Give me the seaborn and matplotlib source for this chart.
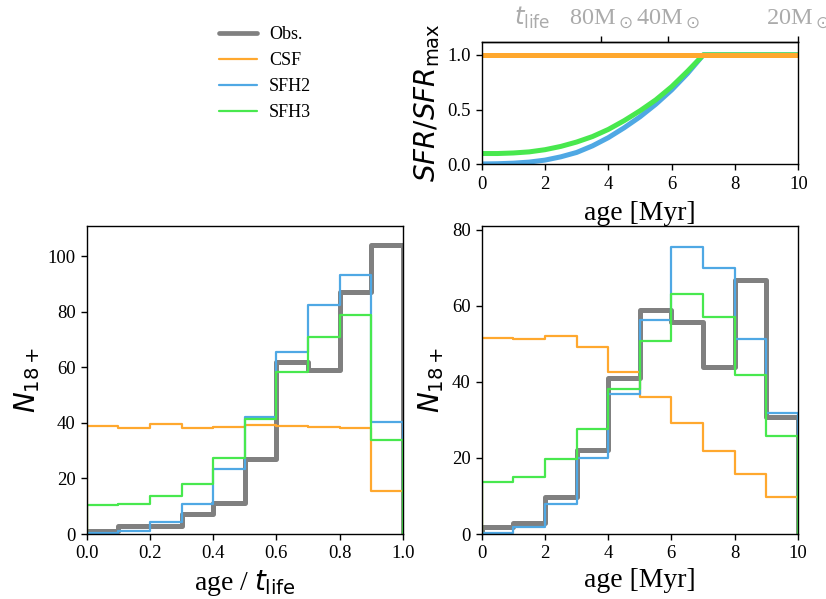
import numpy as np
import pandas as pd
import matplotlib
matplotlib.use("Agg")
import matplotlib.pyplot as plt
from matplotlib.lines import Line2D
import seaborn as sns

# ---------------- data ----------------
frac_edges = [0.0, 0.1, 0.2, 0.3, 0.4, 0.5, 0.6, 0.7, 0.8, 0.9, 1.0]
age_edges = [0, 1, 2, 3, 4, 5, 6, 7, 8, 9, 10]

obs_frac = [1.0, 3.0, 3.0, 7.2, 11.0, 27.0, 62.0, 59.0, 87.0, 104.0]
csf_frac = [38.8, 38.3, 39.7, 38.3, 38.5, 39.1, 38.8, 38.6, 38.2, 15.5]
sfh2_frac = [0.2, 1.0, 4.2, 10.8, 23.4, 42.2, 65.4, 82.6, 93.4, 40.5]
sfh3_frac = [10.3, 10.8, 13.6, 18.0, 27.4, 41.5, 58.4, 71.0, 78.9, 33.9]

obs_age = [1.9, 3.0, 9.8, 22.0, 40.9, 59.0, 55.7, 43.9, 66.8, 30.8]
csf_age = [51.6, 51.3, 52.1, 49.3, 42.6, 36.0, 29.2, 21.8, 15.7, 9.8]
sfh2_age = [0.2, 1.9, 8.0, 20.1, 36.7, 56.2, 75.4, 69.9, 51.2, 31.7]
sfh3_age = [13.7, 14.9, 19.6, 27.7, 38.2, 50.7, 63.2, 57.2, 41.7, 25.9]

sfr_age = [0.0, 0.5, 1.0, 1.5, 2.0, 2.5, 3.0, 3.5, 4.0, 4.5, 5.0, 5.5, 6.0, 6.5, 7.0, 8.0, 10.0]
sfr_csf = [1.0, 1.0, 1.0, 1.0, 1.0, 1.0, 1.0, 1.0, 1.0, 1.0, 1.0, 1.0, 1.0, 1.0, 1.0, 1.0, 1.0]
sfr_sfh2 = [0.005, 0.007, 0.012, 0.022, 0.04, 0.07, 0.11, 0.17, 0.245, 0.335, 0.435, 0.55, 0.68, 0.83, 1.0, 1.0, 1.0]
sfr_sfh3 = [0.10, 0.10, 0.105, 0.115, 0.135, 0.165, 0.205, 0.255, 0.32, 0.40, 0.49, 0.59, 0.71, 0.85, 1.0, 1.0, 1.0]

top_tick_pos = [3.76, 5.87, 10.0]
top_tick_labels = [r"80M$_\odot$", r"40M$_\odot$", r"20M$_\odot$"]

labels = ["Obs.", "CSF", "SFH2", "SFH3"]
colors = {"Obs.": "#808080", "CSF": "#FFA82E", "SFH2": "#4FA8E4", "SFH3": "#48E84E"}
widths = {"Obs.": 3.6, "CSF": 1.6, "SFH2": 1.6, "SFH3": 1.6}

# ---------------- style ----------------
sns.set_theme(style="ticks")
plt.rcParams["font.family"] = ["Liberation Serif", "DejaVu Sans"]
plt.rcParams["mathtext.fontset"] = "dejavusans"
plt.rcParams.update({
    "axes.edgecolor": "black", "axes.linewidth": 1.0,
    "text.color": "black", "axes.labelcolor": "black",
    "xtick.color": "black", "ytick.color": "black",
    "xtick.major.size": 4.5, "ytick.major.size": 4.5,
    "xtick.major.width": 1.0, "ytick.major.width": 1.0,
    "xtick.labelsize": 13.5, "ytick.labelsize": 13.5,
})

fig = plt.figure(figsize=(8.26, 5.99), dpi=100)
ax_top = fig.add_axes([0.5832, 0.7254, 0.3833, 0.2050])
ax_l = fig.add_axes([0.1050, 0.1085, 0.3826, 0.5147])
ax_r = fig.add_axes([0.5832, 0.1085, 0.3826, 0.5142])


def step_hist(ax, edges, counts, name):
    edges = [float(e) for e in edges]
    centers = [0.5 * (a + b) for a, b in zip(edges[:-1], edges[1:])]
    df = pd.DataFrame({"x": centers, "w": [float(c) for c in counts]})
    sns.histplot(data=df, x="x", weights="w", bins=edges, element="step",
                 fill=False, color=colors[name], linewidth=widths[name], ax=ax)
    ax.vlines([edges[0], edges[-1]], 0, [counts[0], counts[-1]],
              color=colors[name], linewidth=widths[name])


for name, vals in zip(labels, [obs_frac, csf_frac, sfh2_frac, sfh3_frac]):
    step_hist(ax_l, frac_edges, vals, name)
for name, vals in zip(labels, [obs_age, csf_age, sfh2_age, sfh3_age]):
    step_hist(ax_r, age_edges, vals, name)

ax_l.set_xlim(0, 1)
ax_l.set_ylim(0, 111)
ax_l.set_xticks([0.0, 0.2, 0.4, 0.6, 0.8, 1.0])
ax_l.set_yticks([0, 20, 40, 60, 80, 100])
ax_l.set_xlabel(r"age / $t_{\rm life}$", fontsize=20)
ax_l.set_ylabel(r"$N_{18+}$", fontsize=20)

ax_r.set_xlim(0, 10)
ax_r.set_ylim(0, 81)
ax_r.set_xticks([0, 2, 4, 6, 8, 10])
ax_r.set_yticks([0, 20, 40, 60, 80])
ax_r.set_xlabel("age [Myr]", fontsize=20)
ax_r.set_ylabel(r"$N_{18+}$", fontsize=20)

# top panel
for name, vals in [("SFH2", sfr_sfh2), ("SFH3", sfr_sfh3), ("CSF", sfr_csf)]:
    sns.lineplot(x=sfr_age, y=vals, color=colors[name], linewidth=3.6, ax=ax_top)
ax_top.set_xlim(0, 10)
ax_top.set_ylim(0, 1.12)
ax_top.set_xticks([0, 2, 4, 6, 8, 10])
ax_top.set_yticks([0.0, 0.5, 1.0])
ax_top.set_xlabel("age [Myr]", fontsize=20, labelpad=6)
ax_top.set_ylabel(r"$SFR/SFR_{\rm max}$", fontsize=20)

sec = ax_top.secondary_xaxis("top")
sec.set_xticks(top_tick_pos)
sec.set_xticklabels(top_tick_labels, fontsize=17.5, color="#ababab")
ax_top.annotate(r"$t_{\rm life}$", xy=(0.158, 1.0), xycoords="axes fraction",
                xytext=(0, 8), textcoords="offset points",
                ha="center", va="bottom", fontsize=17.5, color="#ababab")

for ax in (ax_l, ax_r, ax_top):
    for s in ax.spines.values():
        s.set_visible(True)

handles = [Line2D([], [], color=colors[n], linewidth=(3.4 if n == "Obs." else 1.6)) for n in labels]
fig.legend(handles, labels, loc="upper left", bbox_to_anchor=(0.245, 0.983),
           frameon=False, fontsize=13, handlelength=2.1, handletextpad=0.7,
           labelspacing=0.49)

fig.savefig("out.png", dpi=100)
